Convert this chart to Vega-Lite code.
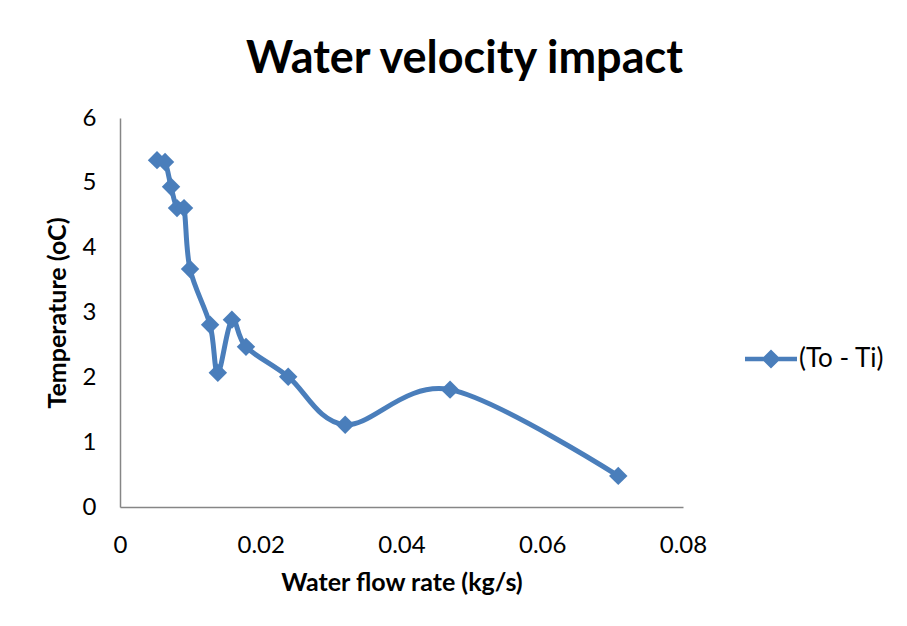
{
  "$schema": "https://vega.github.io/schema/vega-lite/v6.json",
  "width": 563,
  "height": 389,
  "autosize": {"type": "none"},
  "padding": {"left": 120, "top": 118, "right": 224, "bottom": 119},
  "background": "white",
  "title": {
    "text": "Water velocity impact",
    "font": "Lato",
    "fontSize": 45,
    "fontWeight": "bold",
    "color": "#000000",
    "anchor": "middle",
    "dx": 63,
    "offset": 24
  },
  "data": {
    "values": [
      {"flow": 0.00526, "temp": 5.35, "series": "(To - Ti)"},
      {"flow": 0.0064, "temp": 5.32, "series": "(To - Ti)"},
      {"flow": 0.00725, "temp": 4.94, "series": "(To - Ti)"},
      {"flow": 0.0081, "temp": 4.61, "series": "(To - Ti)"},
      {"flow": 0.0091, "temp": 4.61, "series": "(To - Ti)"},
      {"flow": 0.00995, "temp": 3.67, "series": "(To - Ti)"},
      {"flow": 0.0128, "temp": 2.81, "series": "(To - Ti)"},
      {"flow": 0.0139, "temp": 2.07, "series": "(To - Ti)"},
      {"flow": 0.0159, "temp": 2.89, "series": "(To - Ti)"},
      {"flow": 0.0179, "temp": 2.47, "series": "(To - Ti)"},
      {"flow": 0.0239, "temp": 2.01, "series": "(To - Ti)"},
      {"flow": 0.032, "temp": 1.27, "series": "(To - Ti)"},
      {"flow": 0.0469, "temp": 1.81, "series": "(To - Ti)"},
      {"flow": 0.0708, "temp": 0.48, "series": "(To - Ti)"}
    ]
  },
  "encoding": {
    "x": {
      "field": "flow",
      "type": "quantitative",
      "scale": {"domain": [0, 0.08], "nice": false},
      "axis": {
        "title": "Water flow rate (kg/s)",
        "values": [0, 0.02, 0.04, 0.06, 0.08],
        "format": "~g",
        "grid": false,
        "ticks": false,
        "labelFlush": false,
        "labelPadding": 26,
        "titlePadding": 13
      }
    },
    "y": {
      "field": "temp",
      "type": "quantitative",
      "scale": {"domain": [0, 6], "nice": false},
      "axis": {
        "title": "Temperature (oC)",
        "values": [0, 1, 2, 3, 4, 5, 6],
        "grid": false,
        "ticks": false,
        "labelFlush": false,
        "labelPadding": 24,
        "titlePadding": 12
      }
    },
    "color": {
      "field": "series",
      "type": "nominal",
      "scale": {"range": ["#4A7EBB"]},
      "legend": {
        "title": null,
        "orient": "none",
        "legendX": 625,
        "legendY": 215,
        "symbolType": "M-1,-0.09H1V0.09H-1Z M0,-0.37L0.37,0L0,0.37L-0.37,0Z",
        "symbolSize": 2704,
        "symbolFillColor": "#4A7EBB",
        "symbolStrokeWidth": 0,
        "labelFont": "Lato",
        "labelFontSize": 26,
        "labelColor": "#000000",
        "labelOffset": 2,
        "encode": {"symbols": {"update": {"fill": {"value": "#4A7EBB"}, "strokeWidth": {"value": 0}}}}
      }
    }
  },
  "layer": [
    {
      "mark": {"type": "line", "interpolate": "cardinal", "strokeWidth": 5}
    },
    {
      "mark": {"type": "point", "shape": "diamond", "filled": true, "size": 340, "opacity": 1}
    }
  ],
  "config": {
    "view": {"stroke": null},
    "axis": {
      "domainColor": "#868686",
      "domainWidth": 1.5,
      "labelFont": "Lato",
      "labelFontSize": 24,
      "labelColor": "#000000",
      "titleFont": "Lato",
      "titleFontSize": 25,
      "titleFontWeight": "bold",
      "titleColor": "#000000"
    }
  }
}
